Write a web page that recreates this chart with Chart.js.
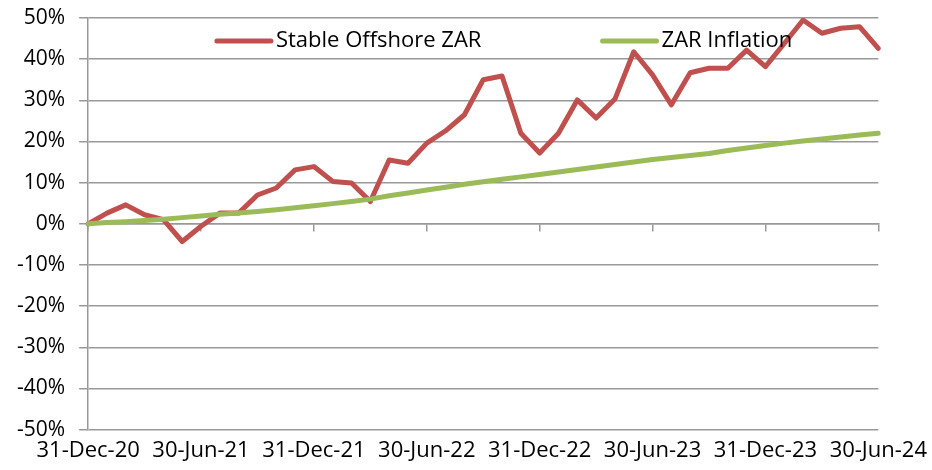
<!DOCTYPE html>
<html>
<head>
<meta charset="utf-8">
<script src="https://cdn.jsdelivr.net/npm/chart.js@4.4.1/dist/chart.umd.min.js"></script>
<style>
  html, body { margin: 0; padding: 0; background: #fff; }
  #wrap { width: 932px; height: 470px; }
</style>
</head>
<body>
<div id="wrap"><canvas id="chart" width="932" height="470"></canvas></div>
<script>
// month-end dates, Dec 2020 to Jun 2024
const months = [
  "31-Dec-20", "31-Jan-21", "28-Feb-21", "31-Mar-21", "30-Apr-21", "31-May-21",
  "30-Jun-21", "31-Jul-21", "31-Aug-21", "30-Sep-21", "31-Oct-21", "30-Nov-21",
  "31-Dec-21", "31-Jan-22", "28-Feb-22", "31-Mar-22", "30-Apr-22", "31-May-22",
  "30-Jun-22", "31-Jul-22", "31-Aug-22", "30-Sep-22", "31-Oct-22", "30-Nov-22",
  "31-Dec-22", "31-Jan-23", "28-Feb-23", "31-Mar-23", "30-Apr-23", "31-May-23",
  "30-Jun-23", "31-Jul-23", "31-Aug-23", "30-Sep-23", "31-Oct-23", "30-Nov-23",
  "31-Dec-23", "31-Jan-24", "29-Feb-24", "31-Mar-24", "30-Apr-24", "31-May-24",
  "30-Jun-24"
];
// labels that are printed under the axis
const tickLabels = ["31-Dec-20", "30-Jun-21", "31-Dec-21", "30-Jun-22",
  "31-Dec-22", "30-Jun-23", "31-Dec-23", "30-Jun-24"];

// cumulative return, %
const stableOffshoreZar = [
  0.0, 2.6, 4.6, 2.2, 1.0, -4.3, -0.6, 2.6, 2.6, 7.0, 8.7, 13.1,
  13.9, 10.3, 9.9, 5.4, 15.5, 14.7, 19.6, 22.6, 26.5, 35.0, 35.9, 22.0,
  17.2, 22.0, 30.1, 25.7, 30.3, 41.8, 36.2, 28.9, 36.7, 37.8, 37.8, 42.2,
  38.2, 43.8, 49.5, 46.3, 47.5, 47.9, 42.6
];
const zarInflation = [
  0.0, 0.3, 0.5, 0.8, 1.1, 1.5, 1.9, 2.3, 2.6, 3.0, 3.4, 3.9,
  4.4, 4.9, 5.4, 6.0, 6.8, 7.5, 8.2, 8.9, 9.6, 10.2, 10.8, 11.4,
  12.0, 12.6, 13.2, 13.8, 14.4, 15.0, 15.6, 16.1, 16.6, 17.1, 17.8, 18.4,
  19.0, 19.6, 20.1, 20.6, 21.1, 21.6, 22.0
];

const gridGrey = "#999999";
const font = { family: "'Open Sans', sans-serif", size: 22 };

// legend drawn inside the plot area, like the original
const insideLegend = {
  id: "insideLegend",
  afterDatasetsDraw(chart, args, opts) {
    const { ctx, chartArea } = chart;
    const w = chartArea.right - chartArea.left;
    const y = chartArea.top + opts.top;
    ctx.save();
    ctx.font = font.size + "px " + font.family;
    ctx.textBaseline = "middle";
    opts.items.forEach(item => {
      const ds = chart.data.datasets[item.dataset];
      const x = chartArea.left + w * item.at;
      ctx.strokeStyle = ds.borderColor;
      ctx.lineWidth = ds.borderWidth;
      ctx.lineCap = "round";
      ctx.beginPath();
      ctx.moveTo(x, y);
      ctx.lineTo(x + opts.sample, y);
      ctx.stroke();
      ctx.fillStyle = "#000";
      ctx.fillText(ds.label, x + opts.sample + 5, y);
    });
    ctx.restore();
  }
};

new Chart(document.getElementById("chart"), {
  type: "line",
  data: {
    labels: months,
    datasets: [
      {
        label: "Stable Offshore ZAR",
        data: stableOffshoreZar,
        borderColor: "#C0504D",
        borderWidth: 5,
        order: 1
      },
      {
        label: "ZAR Inflation",
        data: zarInflation,
        borderColor: "#9BBB59",
        borderWidth: 5,
        order: 0
      }
    ]
  },
  options: {
    responsive: false,
    animation: false,
    layout: { padding: { top: 18, left: 3, right: 0, bottom: -2 } },
    elements: {
      point: { radius: 0 },
      line: { tension: 0, borderJoinStyle: "round", borderCapStyle: "round" }
    },
    plugins: {
      legend: { display: false },
      tooltip: { enabled: false },
      insideLegend: {
        top: 23,
        sample: 54,
        items: [
          { dataset: 0, at: 0.163 },
          { dataset: 1, at: 0.651 }
        ]
      }
    },
    scales: {
      x: {
        position: "bottom",
        grid: { display: false, drawTicks: false },
        border: { display: false },
        ticks: {
          autoSkip: false,
          maxRotation: 0,
          padding: 8,
          color: "#000",
          font: font,
          callback: function (v, i) {
            const l = this.getLabelForValue(v);
            return tickLabels.includes(l) ? l : "";
          }
        },
        afterFit: scale => { scale.paddingRight = Math.max(scale.paddingRight - 3, 0); }
      },
      xZero: {
        type: "category",
        position: { y: 0 },
        grid: {
          drawOnChartArea: false,
          tickLength: 7,
          lineWidth: 1.5,
          tickColor: ctx => tickLabels.includes(months[ctx.index]) ? gridGrey : "rgba(0,0,0,0)"
        },
        border: { color: gridGrey, width: 1.5 },
        ticks: { display: false, autoSkip: false }
      },
      y: {
        min: -50,
        max: 50,
        grid: { color: gridGrey, lineWidth: 1.5, tickLength: 9 },
        border: { color: gridGrey, width: 1.5 },
        ticks: {
          stepSize: 10,
          padding: 14,
          color: "#000",
          font: { family: font.family, size: 21 },
          callback: v => v + "%"
        },
        afterFit: scale => { scale.paddingTop = 0; scale.paddingBottom = 0; }
      }
    }
  },
  plugins: [insideLegend]
});
</script>
</body>
</html>
